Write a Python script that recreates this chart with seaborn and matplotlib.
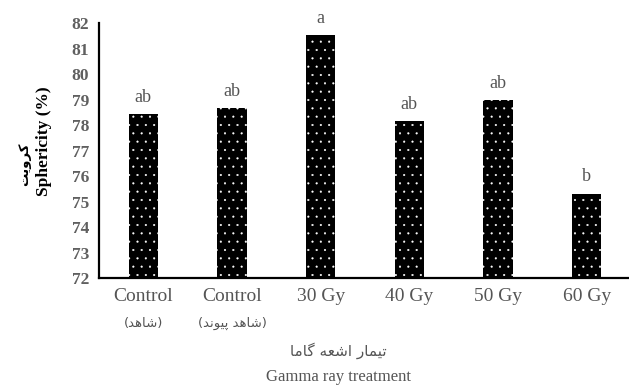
import numpy as np
import matplotlib
matplotlib.use("Agg")
import matplotlib.pyplot as plt
import seaborn as sns

# ---- data ----
categories = ["Control", "Control", "30 Gy", "40 Gy", "50 Gy", "60 Gy"]
categories_fa = ["(شاهد)", "(شاهد پیوند)", "", "", "", ""]
values = [78.43, 78.66, 81.53, 78.16, 78.98, 75.30]
letters = ["ab", "ab", "a", "ab", "ab", "b"]
y_ticks = list(range(72, 83))
ylabel_en = "Sphericity (%)"
ylabel_fa = "کرویت"
xlabel_en = "Gamma ray treatment"
xlabel_fa = "تیمار اشعه گاما"

# ---- minimal Persian shaping (presentation forms, visual order) ----
FORMS = {
    'ا': ('\uFE8D', '\uFE8E', None, None),
    'ت': ('\uFE95', '\uFE96', '\uFE97', '\uFE98'),
    'د': ('\uFEA9', '\uFEAA', None, None),
    'ر': ('\uFEAD', '\uFEAE', None, None),
    'ش': ('\uFEB5', '\uFEB6', '\uFEB7', '\uFEB8'),
    'ع': ('\uFEC9', '\uFECA', '\uFECB', '\uFECC'),
    'م': ('\uFEE1', '\uFEE2', '\uFEE3', '\uFEE4'),
    'ن': ('\uFEE5', '\uFEE6', '\uFEE7', '\uFEE8'),
    'ه': ('\uFEE9', '\uFEEA', '\uFEEB', '\uFEEC'),
    'و': ('\uFEED', '\uFEEE', None, None),
    'پ': ('\uFB56', '\uFB57', '\uFB58', '\uFB59'),
    'ک': ('\uFB8E', '\uFB8F', '\uFB90', '\uFB91'),
    'گ': ('\uFB92', '\uFB93', '\uFB94', '\uFB95'),
    'ی': ('\uFBFC', '\uFBFD', '\uFBFE', '\uFBFF'),
}


def shape(s):
    out = []
    n = len(s)
    for i, ch in enumerate(s):
        if ch not in FORMS:
            out.append(ch)
            continue
        f = FORMS[ch]
        prev = s[i - 1] if i > 0 else None
        nxt = s[i + 1] if i < n - 1 else None
        jp = prev in FORMS and FORMS[prev][2] is not None
        jn = nxt in FORMS and f[2] is not None
        if jp and jn:
            out.append(f[3])
        elif jp:
            out.append(f[1])
        elif jn:
            out.append(f[2])
        else:
            out.append(f[0])
    vis = ''.join(reversed(out))
    return vis.translate(str.maketrans('()', ')('))


sns.set_style("white")
plt.rcParams['font.family'] = ['Liberation Serif', 'DejaVu Sans']
plt.rcParams['hatch.linewidth'] = 0.3

FA = ['DejaVu Sans']
SERIF = ['Liberation Serif', 'DejaVu Sans']

fig = plt.figure(figsize=(6.29, 3.86), dpi=100)
ax = fig.add_axes([99 / 629, 1 - 278 / 386, (631 - 99) / 629, (278 - 23.3) / 386])

x = list(range(len(values)))
sns.barplot(x=x, y=values, ax=ax, color="black", saturation=1, width=0.33,
            edgecolor="white", linewidth=0, hatch="..", native_scale=False)

ax.set_ylim(72, 82)
ax.set_xlim(-0.5, 5.5)
ax.set_yticks(y_ticks)
ax.set_yticklabels([str(t) for t in y_ticks], fontsize=12.5, fontweight='bold',
                   color='#606060', family=SERIF)

ax.set_xticks(x)
ax.set_xticklabels(categories, fontsize=14, color='#555555', family=SERIF)
ax.set_xticks(np.arange(-0.5, 6.0, 1.0), minor=True)
ax.tick_params(axis='x', which='major', length=0, pad=7)
ax.tick_params(axis='x', which='minor', length=4, width=1.2, direction='out', color='black')
ax.tick_params(axis='y', which='major', length=4, width=1.2, direction='out', color='black', pad=3)
ax.set_xlabel("")
ax.set_ylabel("")

for side in ['top', 'right']:
    ax.spines[side].set_visible(False)
for side in ['left', 'bottom']:
    ax.spines[side].set_color('black')
    ax.spines[side].set_linewidth(1.6)

# letters above bars
for xi, v, lab in zip(x, values, letters):
    ax.annotate(lab, (xi, v), xytext=(0, 9), textcoords='offset points',
                ha='center', va='baseline', fontsize=13, color='#555555', family=SERIF)

# Persian sublabels under ticks
trans = ax.get_xaxis_transform()
for xi, lab in zip(x, categories_fa):
    if lab:
        ax.text(xi, 1 - (323 - 23.3) / (278 - 23.3), shape(lab), transform=trans,
                ha='center', va='center', fontsize=9.5, color='#555555', family=FA)

# axis titles
fig.text(338 / 629, 1 - 351 / 386, shape(xlabel_fa), ha='center', va='center',
         fontsize=11, color='#555555', family=FA)
fig.text(338 / 629, 1 - 377 / 386, xlabel_en, ha='center', va='center',
         fontsize=12, color='#555555', family=SERIF)
fig.text(44 / 629, 1 - 141 / 386, ylabel_en, ha='center', va='center', rotation=90,
         fontsize=12.5, fontweight='bold', color='black', family=SERIF)
fig.text(25 / 629, 1 - 164 / 386, shape(ylabel_fa), ha='center', va='center', rotation=90,
         fontsize=9.5, fontweight='bold', color='black', family=FA)

fig.savefig("out.png", dpi=100)
